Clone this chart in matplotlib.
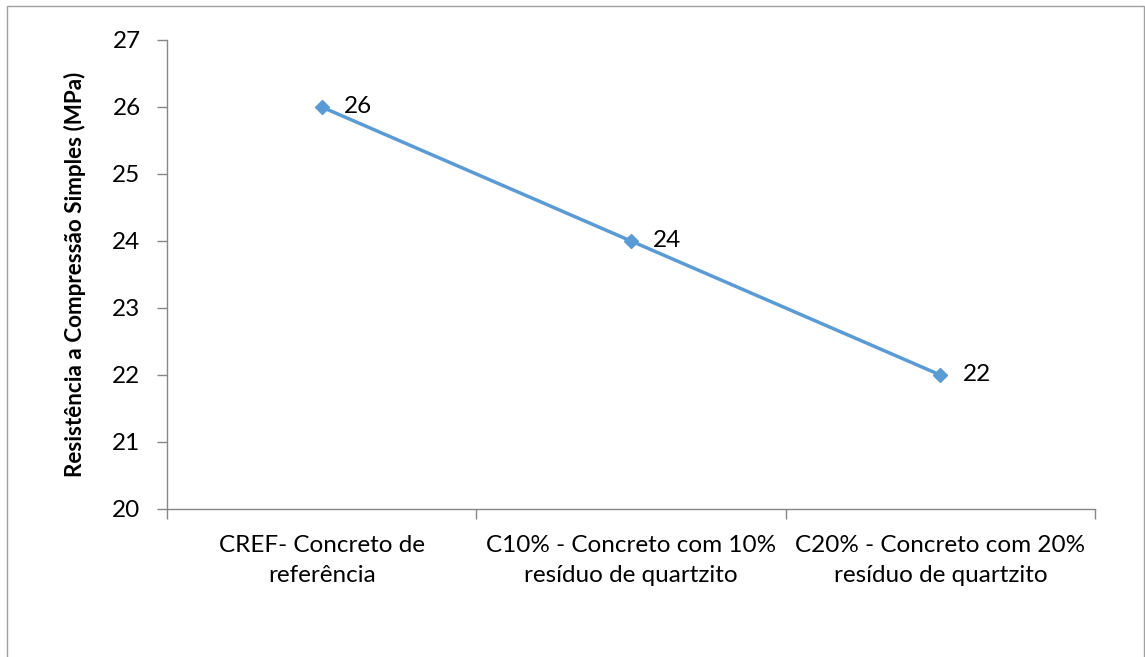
import numpy as np
import matplotlib.pyplot as plt
from matplotlib.patches import Rectangle

# data
categories = ["CREF- Concreto de\nreferência",
              "C10% - Concreto com 10%\nresíduo de quartzito",
              "C20% - Concreto com 20%\nresíduo de quartzito"]
values = [26, 24, 22]
y_ticks = [20, 21, 22, 23, 24, 25, 26, 27]

LINE = "#5B9BD5"
AXIS = "#868686"

plt.rcParams['font.family'] = ['Lato', 'DejaVu Sans']

fig = plt.figure(figsize=(11.45, 6.57), dpi=100)
ax = fig.add_axes([167 / 1145, 1 - 509 / 657, 928 / 1145, 469 / 657])

# outer chart border
fig.patches.append(Rectangle((7 / 1145, -0.05), 1137 / 1145, 1.05 - 6 / 657,
                             transform=fig.transFigure, fill=False,
                             edgecolor="#A0A0A0", linewidth=1.0))

x = np.arange(len(categories))
ax.plot(x, values, color=LINE, linewidth=2.5, marker="D", markersize=7,
        markerfacecolor=LINE, markeredgecolor=LINE)
for xi, v in zip(x, values):
    ax.annotate(f"{v}", (xi, v), xytext=(16, 0), textcoords="offset points",
                va="center", ha="left", fontsize=17.5)

ax.set_xlim(-0.5, len(categories) - 0.5)
ax.set_ylim(min(y_ticks), max(y_ticks))
ax.set_yticks(y_ticks)
ax.set_xticks(x)
ax.set_xticklabels(categories, fontsize=17.5, linespacing=1.5)
ax.set_xticks(np.arange(-0.5, len(categories)), minor=True)
ax.tick_params(axis="x", which="major", length=0, pad=19)
ax.tick_params(axis="x", which="minor", length=7, color=AXIS, width=1)
ax.tick_params(axis="y", length=7, color=AXIS, width=1, labelsize=17.5, pad=12)

for s in ["top", "right"]:
    ax.spines[s].set_visible(False)
for s in ["left", "bottom"]:
    ax.spines[s].set_color(AXIS)
    ax.spines[s].set_linewidth(1)

ax.set_ylabel("Resistência a Compressão Simples (MPa)", fontsize=16.2,
              fontweight="bold", labelpad=19)

fig.savefig("out.png", dpi=100)
